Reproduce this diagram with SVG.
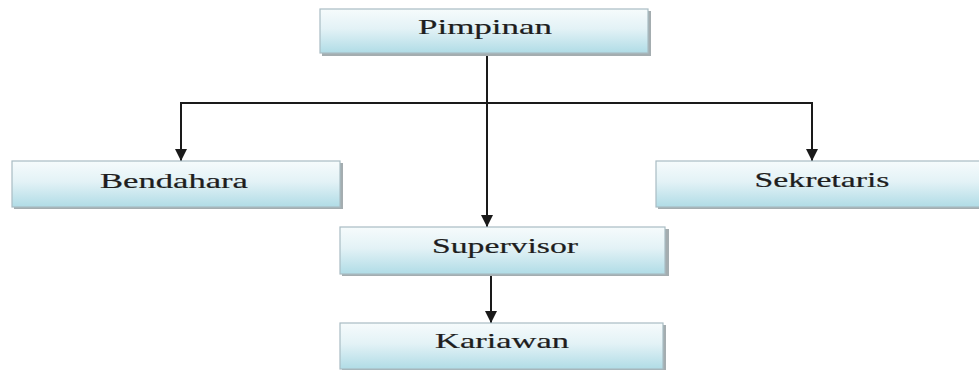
<svg xmlns="http://www.w3.org/2000/svg" width="979" height="370" viewBox="0 0 979 370">
  <defs>
    <linearGradient id="boxGrad" x1="0" y1="0" x2="0" y2="1">
      <stop offset="0" stop-color="#f6fbfc"/>
      <stop offset="0.45" stop-color="#e3f2f6"/>
      <stop offset="1" stop-color="#b0dce6"/>
    </linearGradient>
    <marker id="arrow" viewBox="0 0 10 10" refX="10" refY="5" markerWidth="6" markerHeight="6" orient="auto" markerUnits="strokeWidth">
      <path d="M0,0 L10,5 L0,10 Z" fill="#1a1a1a"/>
    </marker>
  </defs>
  <style>
    .shadow { fill: #a4adb0; }
    .box { fill: url(#boxGrad); stroke: #a9bcc3; stroke-width: 1.2; }
    .label { font-family: "Liberation Serif", "DejaVu Serif", "Times New Roman", serif; font-size: 21px; fill: #1e1e1e; text-anchor: middle; stroke: #1e1e1e; stroke-width: 0.2; }
    .conn { fill: none; stroke: #1a1a1a; stroke-width: 2; }
  </style>
  <rect width="979" height="370" fill="#ffffff"/>

  <g id="connectors">
    <line class="conn" x1="487" y1="53" x2="487" y2="227" marker-end="url(#arrow)"/>
    <line class="conn" x1="180" y1="103" x2="813" y2="103"/>
    <line class="conn" x1="181" y1="103" x2="181" y2="161" marker-end="url(#arrow)"/>
    <line class="conn" x1="812" y1="103" x2="812" y2="161" marker-end="url(#arrow)"/>
    <line class="conn" x1="491" y1="275" x2="491" y2="323" marker-end="url(#arrow)"/>
  </g>

  <g id="pimpinan">
    <rect class="shadow" x="322" y="11" width="329" height="45"/>
    <rect class="box" x="320" y="9" width="328" height="44"/>
    <text class="label" x="485" y="34" font-family="Liberation Serif, serif" textLength="134" lengthAdjust="spacingAndGlyphs">Pimpinan</text>
  </g>

  <g id="bendahara">
    <rect class="shadow" x="14" y="163" width="329" height="46"/>
    <rect class="box" x="12" y="161" width="328" height="46"/>
    <text class="label" x="174" y="188" font-family="Liberation Serif, serif" textLength="148" lengthAdjust="spacingAndGlyphs">Bendahara</text>
  </g>

  <g id="sekretaris">
    <rect class="shadow" x="658" y="163" width="330" height="46"/>
    <rect class="box" x="656" y="161" width="330" height="46"/>
    <text class="label" x="822" y="187" font-family="Liberation Serif, serif" textLength="135" lengthAdjust="spacingAndGlyphs">Sekretaris</text>
  </g>

  <g id="supervisor">
    <rect class="shadow" x="342" y="229" width="327" height="47"/>
    <rect class="box" x="340" y="227" width="325" height="47"/>
    <text class="label" x="505" y="253" font-family="Liberation Serif, serif" textLength="146" lengthAdjust="spacingAndGlyphs">Supervisor</text>
  </g>

  <g id="kariawan">
    <rect class="shadow" x="342" y="325" width="324" height="46"/>
    <rect class="box" x="340" y="323" width="323" height="46"/>
    <text class="label" x="502" y="348" font-family="Liberation Serif, serif" textLength="134" lengthAdjust="spacingAndGlyphs">Kariawan</text>
  </g>
</svg>
